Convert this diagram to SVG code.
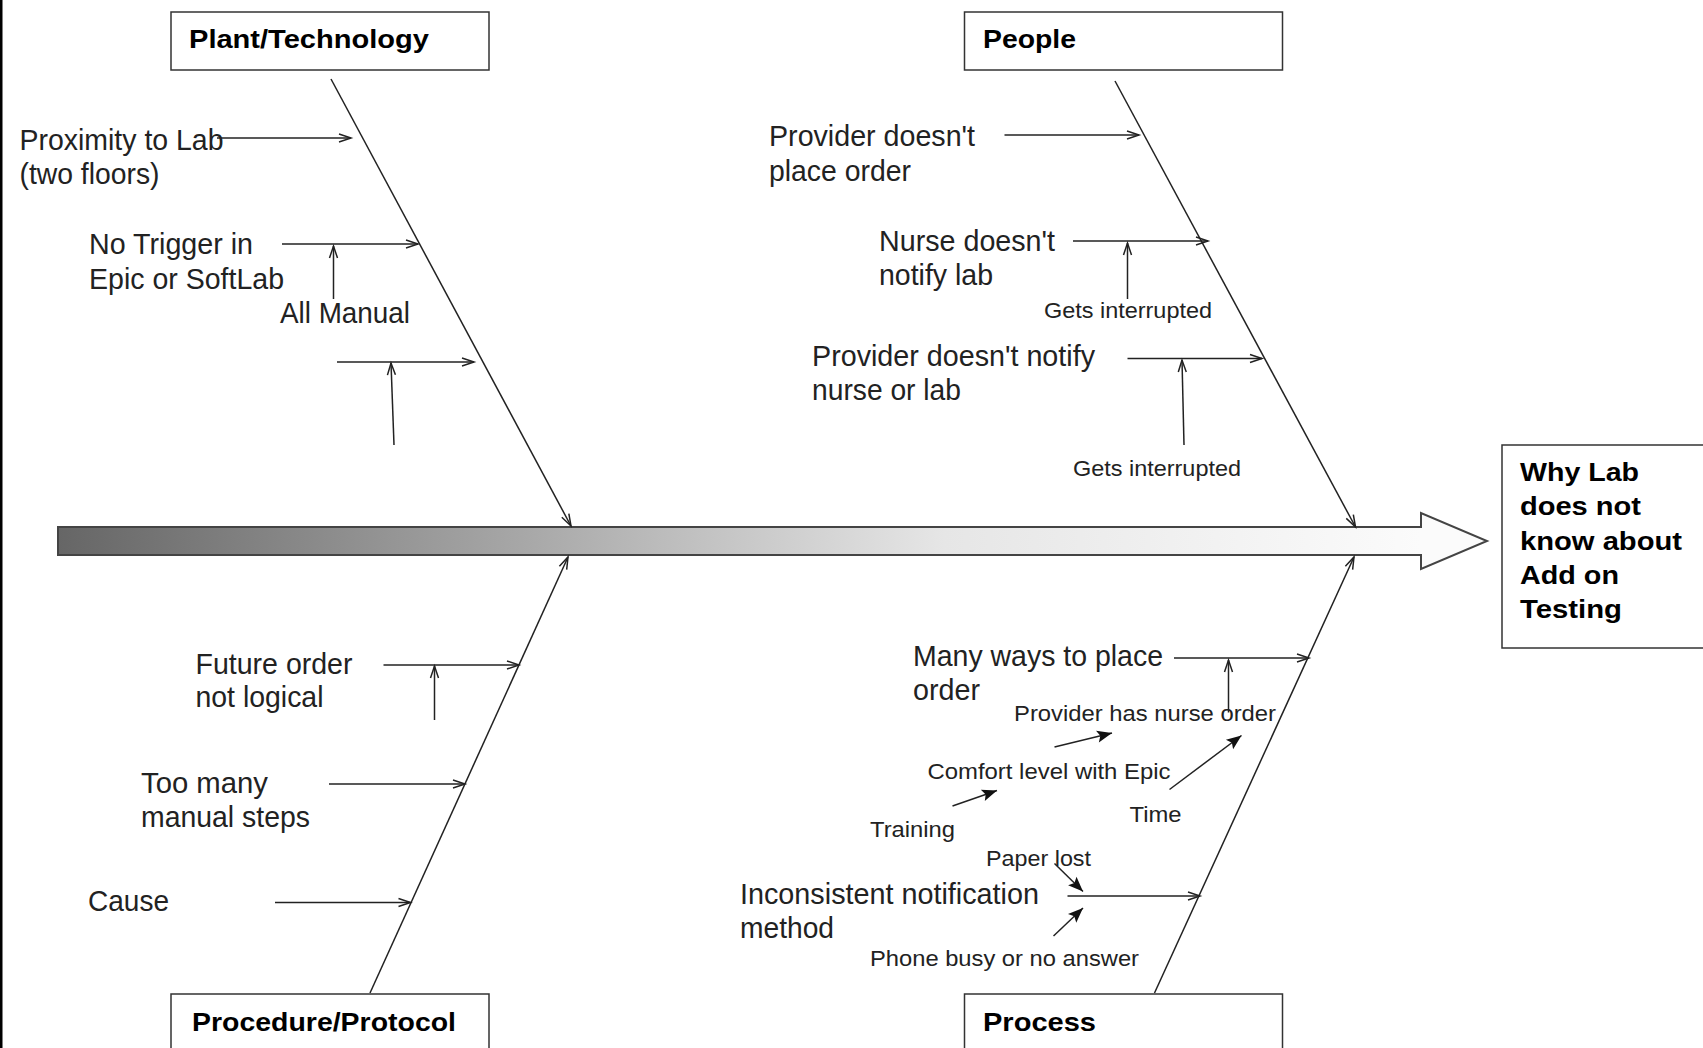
<svg xmlns="http://www.w3.org/2000/svg" width="1703" height="1048" viewBox="0 0 1703 1048">
<defs>
<linearGradient id="spine" gradientUnits="userSpaceOnUse" x1="58" y1="0" x2="1421" y2="0">
<stop offset="0" stop-color="#666666"/>
<stop offset="0.35" stop-color="#a9a9a9"/>
<stop offset="0.65" stop-color="#e6e6e6"/>
<stop offset="1" stop-color="#fbfbfb"/>
</linearGradient>
<marker id="open" markerUnits="userSpaceOnUse" markerWidth="14" markerHeight="10" refX="12" refY="5" orient="auto" overflow="visible">
<path d="M0,1 L12,5 L0,9" fill="none" stroke="#222" stroke-width="1.5"/>
</marker>
<marker id="solid" markerUnits="userSpaceOnUse" markerWidth="16" markerHeight="12" refX="15" refY="6" orient="auto" overflow="visible">
<path d="M0,0 L15,6 L0,12 L3,6 Z" fill="#111"/>
</marker>
</defs>
<style>
.box{fill:#fff;stroke:#333;stroke-width:1.5}
.hdr{font-family:"Liberation Sans",Arial,sans-serif;font-weight:bold;font-size:26px;fill:#000}
.eff{font-family:"Liberation Sans",Arial,sans-serif;font-weight:bold;font-size:26px;fill:#000}
.t{font-family:"Liberation Sans",Arial,sans-serif;font-size:29px;fill:#222}
.s{font-family:"Liberation Sans",Arial,sans-serif;font-size:22px;fill:#222}
.ln{stroke:#222;stroke-width:1.5;fill:none}
.ao{marker-end:url(#open)}
.as{marker-end:url(#solid)}
</style>
<rect x="0" y="0" width="1703" height="1048" fill="#fff"/>
<rect x="0" y="0" width="2.5" height="1048" fill="#000"/>

<g id="spine-arrow">
<path d="M58,527 L1421,527 L1421,513 L1487,541 L1421,569 L1421,555 L58,555 Z" fill="url(#spine)" stroke="#444" stroke-width="2"/>
</g>

<g id="effect">
<rect class="box" x="1502" y="445" width="210" height="203"/>
<text class="eff" x="1520" y="481" textLength="119" lengthAdjust="spacingAndGlyphs">Why Lab</text>
<text class="eff" x="1520" y="515" textLength="121" lengthAdjust="spacingAndGlyphs">does not</text>
<text class="eff" x="1520" y="550" textLength="162" lengthAdjust="spacingAndGlyphs">know about</text>
<text class="eff" x="1520" y="584" textLength="99" lengthAdjust="spacingAndGlyphs">Add on</text>
<text class="eff" x="1520" y="618" textLength="102" lengthAdjust="spacingAndGlyphs">Testing</text>
</g>

<g id="cat-plant">
<rect class="box" x="171" y="12" width="318" height="58"/>
<text class="hdr" x="189" y="48" textLength="240" lengthAdjust="spacingAndGlyphs">Plant/Technology</text>
</g>
<g id="cat-people">
<rect class="box" x="964.5" y="12" width="318" height="58"/>
<text class="hdr" x="983" y="48" textLength="93" lengthAdjust="spacingAndGlyphs">People</text>
</g>
<g id="cat-procedure">
<rect class="box" x="171" y="994" width="318" height="70"/>
<text class="hdr" x="192" y="1031" textLength="264" lengthAdjust="spacingAndGlyphs">Procedure/Protocol</text>
</g>
<g id="cat-process">
<rect class="box" x="964.5" y="994" width="318" height="70"/>
<text class="hdr" x="983" y="1031" textLength="113" lengthAdjust="spacingAndGlyphs">Process</text>
</g>

<g id="cause-proximity">
<text class="t" x="19.5" y="150" textLength="204" lengthAdjust="spacingAndGlyphs">Proximity to Lab</text>
<text class="t" x="19.5" y="184" textLength="140" lengthAdjust="spacingAndGlyphs">(two floors)</text>
</g>
<g id="cause-trigger">
<text class="t" x="89" y="254" textLength="164" lengthAdjust="spacingAndGlyphs">No Trigger in</text>
<text class="t" x="89" y="289" textLength="195" lengthAdjust="spacingAndGlyphs">Epic or SoftLab</text>
</g>
<g id="sub-allmanual">
<text class="t" x="280" y="323" textLength="130" lengthAdjust="spacingAndGlyphs">All Manual</text>
</g>

<g id="cause-provider-order">
<text class="t" x="769" y="146" textLength="206" lengthAdjust="spacingAndGlyphs">Provider doesn't</text>
<text class="t" x="769" y="180.5" textLength="142" lengthAdjust="spacingAndGlyphs">place order</text>
</g>
<g id="cause-nurse">
<text class="t" x="879" y="251" textLength="176" lengthAdjust="spacingAndGlyphs">Nurse doesn't</text>
<text class="t" x="879" y="285" textLength="114" lengthAdjust="spacingAndGlyphs">notify lab</text>
</g>
<g id="sub-interrupted-1">
<text class="s" x="1044" y="318" textLength="168" lengthAdjust="spacingAndGlyphs">Gets interrupted</text>
</g>
<g id="cause-provider-notify">
<text class="t" x="812" y="366" textLength="283" lengthAdjust="spacingAndGlyphs">Provider doesn't notify</text>
<text class="t" x="812" y="400" textLength="149" lengthAdjust="spacingAndGlyphs">nurse or lab</text>
</g>
<g id="sub-interrupted-2">
<text class="s" x="1073" y="476" textLength="168" lengthAdjust="spacingAndGlyphs">Gets interrupted</text>
</g>

<g id="cause-future">
<text class="t" x="195.5" y="673.5" textLength="157" lengthAdjust="spacingAndGlyphs">Future order</text>
<text class="t" x="195.5" y="707" textLength="128" lengthAdjust="spacingAndGlyphs">not logical</text>
</g>
<g id="cause-manual-steps">
<text class="t" x="141" y="793" textLength="127" lengthAdjust="spacingAndGlyphs">Too many</text>
<text class="t" x="141" y="827" textLength="169" lengthAdjust="spacingAndGlyphs">manual steps</text>
</g>
<g id="cause-generic">
<text class="t" x="88" y="911" textLength="81" lengthAdjust="spacingAndGlyphs">Cause</text>
</g>

<g id="cause-many-ways">
<text class="t" x="913" y="666" textLength="250" lengthAdjust="spacingAndGlyphs">Many ways to place</text>
<text class="t" x="913" y="700" textLength="67" lengthAdjust="spacingAndGlyphs">order</text>
</g>
<g id="sub-nurse-order">
<text class="s" x="1014" y="721" textLength="262" lengthAdjust="spacingAndGlyphs">Provider has nurse order</text>
</g>
<g id="sub-comfort">
<text class="s" x="927.5" y="779" textLength="243" lengthAdjust="spacingAndGlyphs">Comfort level with Epic</text>
</g>
<g id="sub-training">
<text class="s" x="870" y="837" textLength="85" lengthAdjust="spacingAndGlyphs">Training</text>
</g>
<g id="sub-time">
<text class="s" x="1129.5" y="822" textLength="52" lengthAdjust="spacingAndGlyphs">Time</text>
</g>
<g id="sub-paper">
<text class="s" x="986" y="866" textLength="105" lengthAdjust="spacingAndGlyphs">Paper lost</text>
</g>
<g id="cause-inconsistent">
<text class="t" x="740" y="904" textLength="299" lengthAdjust="spacingAndGlyphs">Inconsistent notification</text>
<text class="t" x="740" y="937.5" textLength="94" lengthAdjust="spacingAndGlyphs">method</text>
</g>
<g id="sub-phone">
<text class="s" x="870" y="966" textLength="269" lengthAdjust="spacingAndGlyphs">Phone busy or no answer</text>
</g>

<g id="connectors">
<line class="ln ao" x1="331" y1="79" x2="571" y2="526"/>
<line class="ln ao" x1="1115" y1="81" x2="1355.5" y2="527"/>
<line class="ln ao" x1="370" y1="993" x2="568" y2="557"/>
<line class="ln ao" x1="1154.5" y1="993" x2="1354" y2="557"/>

<line class="ln ao" x1="217" y1="138" x2="351" y2="138"/>
<line class="ln ao" x1="282" y1="244" x2="418" y2="244"/>
<line class="ln ao" x1="333.5" y1="299" x2="333.5" y2="246"/>
<line class="ln ao" x1="337" y1="362" x2="474" y2="362"/>
<line class="ln ao" x1="394" y1="445" x2="391" y2="363"/>

<line class="ln ao" x1="1004.5" y1="135" x2="1139" y2="135"/>
<line class="ln ao" x1="1073" y1="241" x2="1208" y2="241"/>
<line class="ln ao" x1="1127.5" y1="299" x2="1127.5" y2="243"/>
<line class="ln ao" x1="1127.5" y1="358.5" x2="1262" y2="358.5"/>
<line class="ln ao" x1="1184" y1="445" x2="1182" y2="360"/>

<line class="ln ao" x1="383.5" y1="665" x2="519" y2="665"/>
<line class="ln ao" x1="434.5" y1="720" x2="434.5" y2="666"/>
<line class="ln ao" x1="329" y1="784" x2="465" y2="784"/>
<line class="ln ao" x1="275" y1="902.5" x2="410.5" y2="902.5"/>

<line class="ln ao" x1="1174" y1="658" x2="1309" y2="658"/>
<line class="ln ao" x1="1228.5" y1="712.5" x2="1228.5" y2="660"/>
<line class="ln as" x1="1054.5" y1="747" x2="1112" y2="733"/>
<line class="ln as" x1="952.5" y1="806" x2="997" y2="790.5"/>
<line class="ln as" x1="1169.5" y1="789.5" x2="1241.5" y2="735.5"/>
<line class="ln ao" x1="1067.5" y1="896" x2="1200" y2="896"/>
<line class="ln as" x1="1054.5" y1="863.5" x2="1083" y2="891.5"/>
<line class="ln as" x1="1053.5" y1="936" x2="1083" y2="908"/>
</g>
</svg>
